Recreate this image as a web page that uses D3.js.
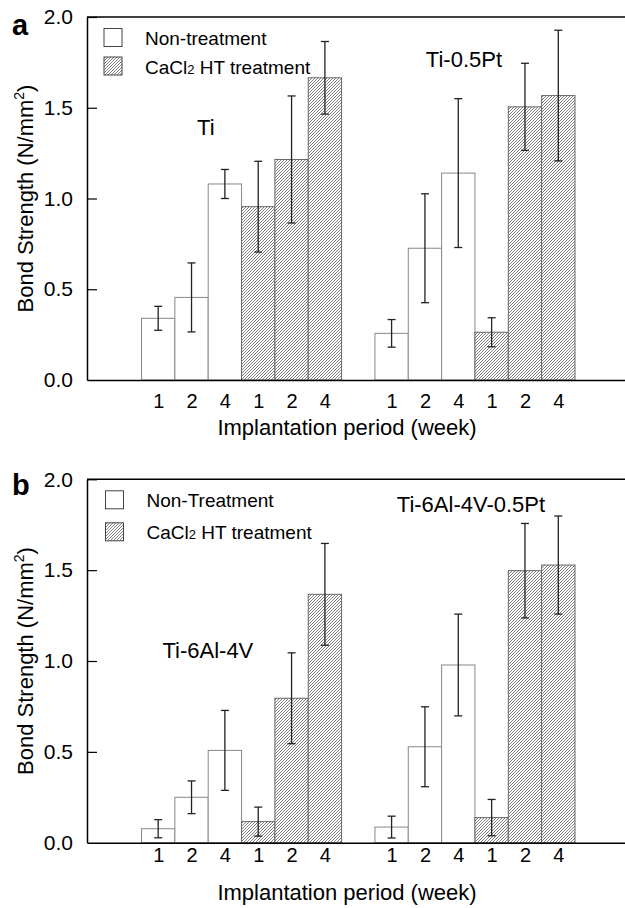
<!DOCTYPE html>
<html>
<head>
<meta charset="utf-8">
<script src="https://cdn.jsdelivr.net/npm/d3@7"></script>
<style>
  body { margin: 0; background: #fff; }
  svg { display: block; font-family: Arial, 'Liberation Sans', sans-serif; }
</style>
</head>
<body>
<div id="chart"></div>
<script>
var width = 625, height = 908;

// categories
var weeks = ['1', '2', '4'];
var yTicks = [0, 0.5, 1.0, 1.5, 2.0];

// panel a: Ti and Ti-0.5Pt
var tiNon = [0.34, 0.455, 1.08];
var tiNonErr = [0.066, 0.19, 0.08];
var tiHT = [0.955, 1.215, 1.665];
var tiHTErr = [0.25, 0.35, 0.2];
var tiPtNon = [0.257, 0.726, 1.14];
var tiPtNonErr = [0.076, 0.3, 0.41];
var tiPtHT = [0.263, 1.505, 1.567];
var tiPtHTErr = [0.08, 0.24, 0.36];

// panel b: Ti-6Al-4V and Ti-6Al-4V-0.5Pt
var tiAlNon = [0.077, 0.25, 0.508];
var tiAlNonErr = [0.05, 0.09, 0.22];
var tiAlHT = [0.116, 0.795, 1.367];
var tiAlHTErr = [0.08, 0.25, 0.28];
var tiAlPtNon = [0.086, 0.528, 0.978];
var tiAlPtNonErr = [0.06, 0.22, 0.28];
var tiAlPtHT = [0.138, 1.497, 1.528];
var tiAlPtHTErr = [0.1, 0.26, 0.27];

var svg = d3.select('#chart').append('svg')
  .attr('width', width).attr('height', height);

var defs = svg.append('defs');
var pat = defs.append('pattern')
  .attr('id', 'hatch')
  .attr('patternUnits', 'userSpaceOnUse')
  .attr('width', 3).attr('height', 3);
pat.append('rect').attr('width', 3).attr('height', 3).attr('fill', '#fff');
pat.append('path')
  .attr('d', 'M-1,1L1,-1M0,3L3,0M2,4L4,2')
  .attr('stroke', '#6a6a6a')
  .attr('stroke-width', 0.85);

// build the 12 bars of one panel from the arrays
function makeBars(groups) {
  var out = [];
  groups.forEach(function(g, gi) {
    g.series.forEach(function(s, si) {
      s.vals.forEach(function(v, wi) {
        out.push({
          slot: gi * 7 + si * 3 + wi,
          value: v,
          err: s.err[wi],
          hatch: si == 1,
          week: weeks[wi]
        });
      });
    });
  });
  return out;
}

function drawPanel(cfg) {
  var top = cfg.top, zero = cfg.zero, left = 87, right = 625;

  var x = d3.scaleLinear().domain([-2.135, 14]).range([left, right]);
  var y = d3.scaleLinear().domain([0, 2]).range([zero, top]);
  var bw = x(1) - x(0);

  var g = svg.append('g');
  var bars = makeBars(cfg.groups);

  // bars
  g.selectAll('rect.bar')
    .data(bars).enter()
    .append('rect')
    .attr('class', 'bar')
    .attr('x', function(d) { return x(d.slot) - bw / 2; })
    .attr('y', function(d) { return y(d.value); })
    .attr('width', bw)
    .attr('height', function(d) { return y(0) - y(d.value); })
    .attr('fill', function(d) { return d.hatch ? 'url(#hatch)' : '#fff'; })
    .attr('stroke', function(d) { return d.hatch ? '#666' : '#888'; })
    .attr('stroke-width', 1);

  // error bars
  var eb = g.selectAll('g.err')
    .data(bars).enter()
    .append('g')
    .attr('class', 'err')
    .attr('stroke', '#222')
    .attr('stroke-width', 1.3);
  eb.append('line')
    .attr('x1', function(d) { return x(d.slot); })
    .attr('x2', function(d) { return x(d.slot); })
    .attr('y1', function(d) { return y(d.value + d.err); })
    .attr('y2', function(d) { return y(d.value - d.err); });
  eb.append('line')
    .attr('x1', function(d) { return x(d.slot) - 4; })
    .attr('x2', function(d) { return x(d.slot) + 4; })
    .attr('y1', function(d) { return y(d.value + d.err); })
    .attr('y2', function(d) { return y(d.value + d.err); });
  eb.append('line')
    .attr('x1', function(d) { return x(d.slot) - 4; })
    .attr('x2', function(d) { return x(d.slot) + 4; })
    .attr('y1', function(d) { return y(d.value - d.err); })
    .attr('y2', function(d) { return y(d.value - d.err); });

  // frame: top line
  g.append('line')
    .attr('x1', left).attr('x2', right)
    .attr('y1', top).attr('y2', top)
    .attr('stroke', '#000').attr('stroke-width', 1.5);

  // y axis
  var yAxis = g.append('g')
    .attr('transform', 'translate(' + left + ',0)')
    .call(d3.axisLeft(y).tickValues(yTicks).tickFormat(d3.format('.1f'))
      .tickSizeInner(-10).tickSizeOuter(0).tickPadding(14));
  yAxis.select('.domain').attr('stroke', '#000').attr('stroke-width', 1.5);
  yAxis.selectAll('.tick line').attr('stroke', '#000').attr('stroke-width', 1.2);
  yAxis.selectAll('.tick text')
    .style('font-size', '21px').style('font-family', 'Arial, Liberation Sans, sans-serif')
    .attr('fill', '#000');
  yAxis.selectAll('.tick').filter(function(d) { return d == 0; }).select('line').remove();

  // x axis
  var xAxis = g.append('g')
    .attr('transform', 'translate(0,' + zero + ')')
    .call(d3.axisBottom(x).tickValues(bars.map(function(d) { return d.slot; }))
      .tickFormat(function(s) { return weeks[(s % 7) % 3]; })
      .tickSize(0).tickPadding(cfg.tickPad));
  xAxis.select('.domain').attr('stroke', '#000').attr('stroke-width', 1.5);
  xAxis.selectAll('.tick text')
    .style('font-size', '20px').style('font-family', 'Arial, Liberation Sans, sans-serif')
    .attr('fill', '#000');

  // axis titles
  g.append('text')
    .attr('x', 347).attr('y', zero + cfg.titleOff)
    .attr('text-anchor', 'middle')
    .style('font-size', '22px')
    .text('Implantation period (week)');

  var yt = g.append('text')
    .attr('transform', 'translate(33,' + (top + zero) / 2 + ') rotate(-90)')
    .attr('text-anchor', 'middle')
    .style('font-size', '22px');
  yt.append('tspan').text('Bond Strength (N/mm');
  yt.append('tspan').attr('dy', -9).style('font-size', '14px').text('2');
  yt.append('tspan').attr('dy', 9).text(')');

  // panel letter
  g.append('text')
    .attr('x', 12).attr('y', cfg.letterY)
    .style('font-size', '29px').style('font-weight', 'bold')
    .text(cfg.letter);

  // legend
  var leg = g.append('g');
  cfg.legend.forEach(function(l, i) {
    var ly = top + cfg.legY[i];
    leg.append('rect')
      .attr('x', cfg.legX).attr('y', ly)
      .attr('width', 18).attr('height', 18)
      .attr('fill', i == 1 ? 'url(#hatch)' : '#fff')
      .attr('stroke', '#444').attr('stroke-width', 1);
    var t = leg.append('text')
      .attr('x', cfg.legX + 41).attr('y', ly + 16.5)
      .style('font-size', '19px');
    if (i == 1) {
      t.append('tspan').text('CaCl');
      t.append('tspan').style('font-size', '13px').text('2');
      t.append('tspan').text(' HT treatment');
    } else {
      t.text(l);
    }
  });

  // alloy names
  cfg.groups.forEach(function(gr) {
    g.append('text')
      .attr('x', x(gr.labelAt[0])).attr('y', y(gr.labelAt[1]))
      .attr('text-anchor', 'middle')
      .style('font-size', '22px')
      .text(gr.name);
  });
}

drawPanel({
  letter: 'a', letterY: 35, top: 17, zero: 380, tickPad: 14, titleOff: 55,
  legX: 104, legY: [11.5, 40], legend: ['Non-treatment', 'CaCl2 HT treatment'],
  groups: [
    { name: 'Ti', labelAt: [1.43, 1.35],
      series: [{ vals: tiNon, err: tiNonErr }, { vals: tiHT, err: tiHTErr }] },
    { name: 'Ti-0.5Pt', labelAt: [9.17, 1.726],
      series: [{ vals: tiPtNon, err: tiPtNonErr }, { vals: tiPtHT, err: tiPtHTErr }] }
  ]
});

drawPanel({
  letter: 'b', letterY: 495, top: 479.3, zero: 842.7, tickPad: 5, titleOff: 57,
  legX: 105.5, legY: [11.5, 43.5], legend: ['Non-Treatment', 'CaCl2 HT treatment'],
  groups: [
    { name: 'Ti-6Al-4V', labelAt: [1.49, 1.017],
      series: [{ vals: tiAlNon, err: tiAlNonErr }, { vals: tiAlHT, err: tiAlHTErr }] },
    { name: 'Ti-6Al-4V-0.5Pt', labelAt: [9.38, 1.82],
      series: [{ vals: tiAlPtNon, err: tiAlPtNonErr }, { vals: tiAlPtHT, err: tiAlPtHTErr }] }
  ]
});
</script>
</body>
</html>
